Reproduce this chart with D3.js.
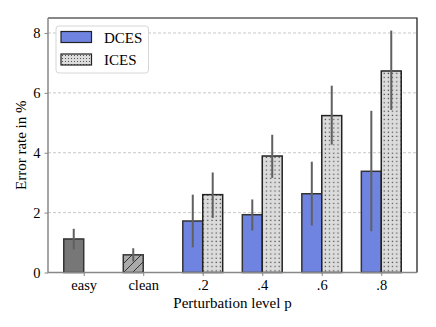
<!DOCTYPE html>
<html>
<head>
  <meta charset="utf-8">
  <script src="https://cdn.jsdelivr.net/npm/d3@7"></script>
  <style>
    body { margin: 0; background: #fff; }
    text { font-family: "Liberation Serif", "DejaVu Serif", serif; fill: #000; }
  </style>
</head>
<body>
<svg id="chart" width="436" height="327"></svg>
<script>
  // data
  var categories = ["easy", "clean", ".2", ".4", ".6", ".8"];
  var baseNames = ["easy", "clean"];
  var baseVals = [1.12, 0.59];
  var baseLo = [0.77, 0.37];
  var baseHi = [1.46, 0.81];
  var levels = [".2", ".4", ".6", ".8"];
  var dces = [1.72, 1.93, 2.63, 3.38];
  var dcesLo = [0.84, 1.40, 1.57, 1.38];
  var dcesHi = [2.60, 2.44, 3.70, 5.40];
  var ices = [2.60, 3.89, 5.24, 6.73];
  var icesLo = [1.82, 3.16, 4.27, 5.43];
  var icesHi = [3.34, 4.60, 6.24, 8.08];
  var yTicks = [0, 2, 4, 6, 8];

  // layout (plot box)
  var pLeft = 48, pRight = 417, pTop = 18, pBottom = 272.5;
  var barW = 0.335;

  var svg = d3.select("#chart");

  var x = d3.scaleLinear().domain([-0.6, 5.6]).range([pLeft, pRight]);
  var y = d3.scaleLinear().domain([0, 8.5]).range([pBottom, pTop]);

  // patterns
  var defs = svg.append("defs");
  var dots = defs.append("pattern").attr("id", "dots")
    .attr("patternUnits", "userSpaceOnUse").attr("width", 4.2).attr("height", 4.2);
  dots.append("rect").attr("width", 4.2).attr("height", 4.2).attr("fill", "#dcdcdc");
  dots.append("rect").attr("x", 1.4).attr("y", 1.4).attr("width", 1.2).attr("height", 1.2).attr("fill", "#444");

  var dotsSmall = defs.append("pattern").attr("id", "dotsSmall")
    .attr("patternUnits", "userSpaceOnUse").attr("width", 3).attr("height", 3);
  dotsSmall.append("rect").attr("width", 3).attr("height", 3).attr("fill", "#dcdcdc");
  dotsSmall.append("rect").attr("x", 1).attr("y", 1).attr("width", 1).attr("height", 1).attr("fill", "#555");

  var hatch = defs.append("pattern").attr("id", "hatch")
    .attr("patternUnits", "userSpaceOnUse").attr("width", 9).attr("height", 9);
  hatch.append("rect").attr("width", 9).attr("height", 9).attr("fill", "#aaaaaa");
  hatch.append("path").attr("d", "M-2,11 L11,-2 M-2,2 L2,-2 M7,11 L11,7")
    .attr("stroke", "#333").attr("stroke-width", 1);

  // grid
  svg.append("g").selectAll("line")
    .data(yTicks.filter(function(d) { return d > 0; }))
    .enter().append("line")
    .attr("x1", pLeft).attr("x2", pRight)
    .attr("y1", function(d) { return y(d); })
    .attr("y2", function(d) { return y(d); })
    .attr("stroke", "#c8c8c8").attr("stroke-width", 1)
    .attr("stroke-dasharray", "3,2");

  // bars
  var baseFill = ["#777777", "url(#hatch)"];
  svg.append("g").selectAll("rect")
    .data(baseVals)
    .enter().append("rect")
    .attr("x", function(d, i) { return x(categories.indexOf(baseNames[i]) - barW); })
    .attr("width", x(barW) - x(0))
    .attr("y", function(d) { return y(d); })
    .attr("height", function(d) { return y(0) - y(d); })
    .attr("fill", function(d, i) { return baseFill[i]; })
    .attr("stroke", "#333").attr("stroke-width", 1.5);

  svg.append("g").selectAll("rect")
    .data(dces)
    .enter().append("rect")
    .attr("x", function(d, i) { return x(categories.indexOf(levels[i]) - barW); })
    .attr("width", x(barW) - x(0))
    .attr("y", function(d) { return y(d); })
    .attr("height", function(d) { return y(0) - y(d); })
    .attr("fill", "#6f84e0")
    .attr("stroke", "#333").attr("stroke-width", 1.5);

  svg.append("g").selectAll("rect")
    .data(ices)
    .enter().append("rect")
    .attr("x", function(d, i) { return x(categories.indexOf(levels[i])); })
    .attr("width", x(barW) - x(0))
    .attr("y", function(d) { return y(d); })
    .attr("height", function(d) { return y(0) - y(d); })
    .attr("fill", "url(#dots)")
    .attr("stroke", "#222").attr("stroke-width", 1.5);

  // error bars
  function errBars(lo, hi, pos) {
    svg.append("g").selectAll("line")
      .data(lo)
      .enter().append("line")
      .attr("x1", function(d, i) { return x(pos(i)); })
      .attr("x2", function(d, i) { return x(pos(i)); })
      .attr("y1", function(d) { return y(d); })
      .attr("y2", function(d, i) { return y(hi[i]); })
      .attr("stroke", "#606060").attr("stroke-width", 2);
  }
  errBars(baseLo, baseHi, function(i) { return categories.indexOf(baseNames[i]) - barW / 2; });
  errBars(dcesLo, dcesHi, function(i) { return categories.indexOf(levels[i]) - barW / 2; });
  errBars(icesLo, icesHi, function(i) { return categories.indexOf(levels[i]) + barW / 2; });

  // axes
  var yAxis = svg.append("g")
    .attr("transform", "translate(" + pLeft + ",0)")
    .call(d3.axisLeft(y).tickValues(yTicks).tickSize(3.5).tickPadding(4));
  yAxis.select(".domain").remove();
  yAxis.selectAll("line").attr("stroke", "#888");
  yAxis.selectAll("text").style("font-size", "14.5px").attr("fill", "#000")
    .style("font-family", "'Liberation Serif', serif");

  var xAxis = svg.append("g")
    .attr("transform", "translate(0," + pBottom + ")")
    .call(d3.axisBottom(x).tickValues(d3.range(categories.length))
      .tickFormat(function(i) { return categories[i]; }).tickSize(3.5).tickPadding(4));
  xAxis.select(".domain").remove();
  xAxis.selectAll("line").attr("stroke", "#888");
  xAxis.selectAll("text").style("font-size", "14.5px").attr("fill", "#000")
    .style("font-family", "'Liberation Serif', serif");

  // frame
  svg.append("path")
    .attr("d", "M" + pLeft + "," + pTop + "H" + pRight + "V" + pBottom)
    .attr("fill", "none").attr("stroke", "#111").attr("stroke-width", 1.2);
  svg.append("path")
    .attr("d", "M" + pLeft + "," + pTop + "V" + pBottom + "H" + pRight)
    .attr("fill", "none").attr("stroke", "#888").attr("stroke-width", 1.5);

  // labels
  svg.append("text")
    .attr("x", (pLeft + pRight) / 2).attr("y", 308)
    .attr("text-anchor", "middle").style("font-size", "15px")
    .text("Perturbation level p");
  svg.append("text")
    .attr("transform", "translate(26," + ((pTop + pBottom) / 2) + ") rotate(-90)")
    .attr("text-anchor", "middle").style("font-size", "15px")
    .text("Error rate in %");

  // legend
  var lg = svg.append("g").attr("transform", "translate(56,26)");
  lg.append("rect").attr("width", 92.5).attr("height", 47).attr("rx", 3)
    .attr("fill", "#fff").attr("fill-opacity", 0.85)
    .attr("stroke", "#d6d6d6").attr("stroke-width", 1);
  var legItems = [{ name: "DCES", fill: "#6f84e0" }, { name: "ICES", fill: "url(#dotsSmall)" }];
  var li = lg.selectAll(".li").data(legItems).enter().append("g")
    .attr("transform", function(d, i) { return "translate(5," + (5.5 + i * 22.5) + ")"; });
  li.append("rect").attr("width", 30.5).attr("height", 11)
    .attr("fill", function(d) { return d.fill; })
    .attr("stroke", "#222").attr("stroke-width", 1.2);
  li.append("text").attr("x", 43).attr("y", 11)
    .style("font-size", "15px")
    .text(function(d) { return d.name; });
</script>
</body>
</html>
